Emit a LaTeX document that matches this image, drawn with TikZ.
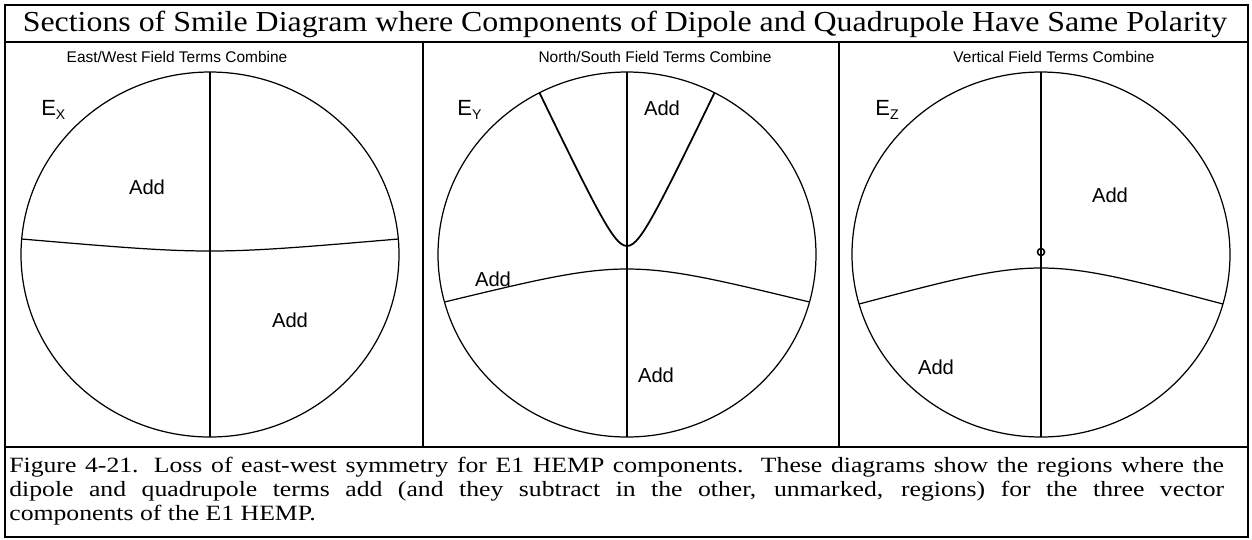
\documentclass[tikz,border=0pt]{standalone}
\usepackage{fontspec}
\setmainfont{Liberation Serif}
\newfontfamily\arialfont{Liberation Sans}
\newfontfamily\titlefont[FakeStretch=1.1]{Liberation Serif}
\newfontfamily\widefont[FakeStretch=1.18]{Liberation Serif}
\usetikzlibrary{positioning}

\begin{document}
\begin{tikzpicture}[x=0.02cm,y=-0.02cm,
	frame/.style={line width=1.2pt},
	curve/.style={line width=0.7pt},
	add/.style={font=\arialfont\fontsize{11.5}{13}\selectfont},
	head/.style={font=\arialfont\fontsize{8.8}{10}\selectfont},
	comp/.style={font=\arialfont\fontsize{12.5}{14}\selectfont,anchor=base west,inner sep=0pt}]
	\useasboundingbox (0,0) rectangle (1252,539);
	\draw[frame] (5,5) rectangle (1248,537);
	\draw[frame] (5,42) -- (1248,42);
	\draw[frame] (5,447) -- (1248,447);
	\draw[frame] (423,42) -- (423,447);
	\draw[frame] (839,42) -- (839,447);
	
	\node (t0) at (625,24){\titlefont\fontsize{16.5}{19}\selectfont Sections of Smile Diagram where Components of Dipole and Quadrupole Have Same Polarity};
	
	\node[head] (h1) at (177,57){East/West Field Terms Combine};
	\draw[curve] (210,254.5) ellipse [x radius=189,y radius=182.5];
	\draw[curve] (210,72) -- (210,437);
	\draw[curve] (21.7,239) .. controls (210,255) .. (398.3,239);
	\node[comp] (e1) at (41,115){E\raisebox{-2.5pt}{\fontsize{8}{9}\selectfont X}};
	\node[add] (a1) at (147,187){Add};
	\node[add] (a2) at (290,320){Add};
	
	\node[head] (h2) at (655,57){North/South Field Terms Combine};
	\draw[curve] (627,254.5) ellipse [x radius=189,y radius=182.5];
	\draw[curve] (627,72) -- (627,437);
	\draw[curve] (444.5,302) .. controls (627,258) .. (809.5,302);
	\draw[curve,line width=1pt] plot[domain=-87.5:87.5,samples=61,smooth] ({627+\x},{246-2.1*(sqrt(\x*\x+256)-16)});
	\node[comp] (e2) at (457,115){E\raisebox{-2.5pt}{\fontsize{8}{9}\selectfont Y}};
	\node[add] (a3) at (662,108){Add};
	\node[add] (a4) at (493,279){Add};
	\node[add] (a5) at (656,375){Add};
	
	\node[head] (h3) at (1054,57){Vertical Field Terms Combine};
	\draw[curve] (1041,254.5) ellipse [x radius=189,y radius=182.5];
	\draw[curve] (1041,72) -- (1041,437);
	\draw[curve] (859.1,304) .. controls (1041,256) .. (1222.9,304);
	\draw[curve,line width=0.9pt] (1041,252) circle [radius=3.5];
	\node[comp] (e3) at (875,115){E\raisebox{-2.5pt}{\fontsize{8}{9}\selectfont Z}};
	\node[add] (a6) at (1110,195){Add};
	\node[add] (a7) at (936,367){Add};
	
	\node[anchor=north west,inner sep=0pt,text width=24.3cm,align=justify,
	font=\widefont\fontsize{12.4}{13.6}\selectfont] (cap) at (9,457){Figure 4-21. Loss of east-west symmetry for E1 HEMP components.\ \ These diagrams show the regions where the\linebreak dipole and quadrupole terms add (and they subtract in the other, unmarked, regions) for the three vector\linebreak components of the E1 HEMP.};
\end{tikzpicture}
\end{document}
